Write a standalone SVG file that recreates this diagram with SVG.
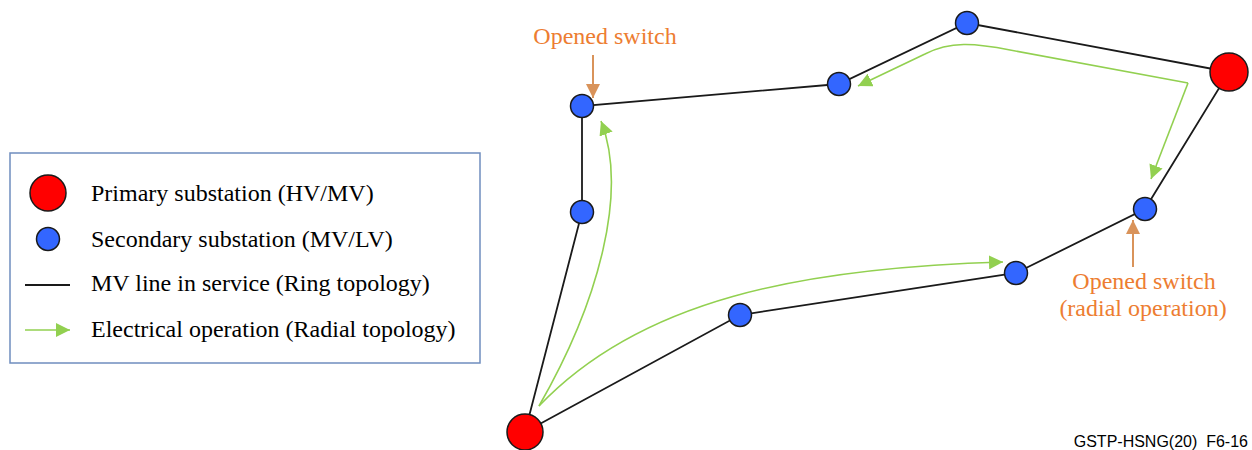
<svg xmlns="http://www.w3.org/2000/svg" width="1252" height="450" viewBox="0 0 1252 450">
<style>
.ring{fill:none;stroke:#1a1a1a;stroke-width:1.8}
.op{fill:none;stroke:#92D050;stroke-width:1.6}
.sw{fill:none;stroke:#D9935A;stroke-width:2}
.prim{fill:#FF0000;stroke:#1a1a1a;stroke-width:1.5}
.sec{fill:#3366FF;stroke:#1a1a1a;stroke-width:1.5}
.lt{font-family:"Liberation Serif","Times New Roman",serif;font-size:24px;fill:#000}
.ot{font-family:"Liberation Serif","Times New Roman",serif;font-size:24px;fill:#ED7D31;text-anchor:middle}
.ft{font-family:"Liberation Sans",Arial,sans-serif;font-size:16px;fill:#000;text-anchor:end}
</style>
<defs>
<marker id="ga" viewBox="0 0 10 10" refX="10" refY="5" markerWidth="14" markerHeight="14" markerUnits="userSpaceOnUse" orient="auto">
<path d="M0,0 L10,5 L0,10 Z" fill="#92D050"/>
</marker>
<marker id="oa" viewBox="0 0 10 10" refX="10" refY="5" markerWidth="14" markerHeight="14" markerUnits="userSpaceOnUse" orient="auto">
<path d="M0,0 L10,5 L0,10 Z" fill="#D9935A"/>
</marker>
</defs>
<g id="legend">
<rect x="10" y="153" width="470" height="210" fill="#fff" stroke="#6F8DBE" stroke-width="1.5"/>
<circle class="prim" cx="48" cy="193" r="18"/>
<circle class="sec" cx="48" cy="239" r="11.5"/>
<line x1="25" y1="285" x2="70" y2="285" stroke="#1a1a1a" stroke-width="1.8"/>
<line x1="25" y1="330" x2="70" y2="330" class="op" marker-end="url(#ga)"/>
<text class="lt" x="91" y="201">Primary substation (HV/MV)</text>
<text class="lt" x="91" y="247">Secondary substation (MV/LV)</text>
<text class="lt" x="91" y="291">MV line in service (Ring topology)</text>
<text class="lt" x="91" y="337">Electrical operation (Radial topology)</text>
</g>
<g id="connectors">
<polyline class="ring" points="525,432 582,212 582,106 839,84 967,23 1229,72 1145,209 1016,273 740,315 525,432"/>
<path class="op" d="M539,406 C600,300 628,190 601,121" marker-end="url(#ga)"/>
<path class="op" d="M539,406 C640,300 800,268 1003,262" marker-end="url(#ga)"/>
<path class="op" d="M1188,83 L1010,50 C975,43 950,41 925,54 L858,86" marker-end="url(#ga)"/>
<path class="op" d="M1188,83 L1151,179" marker-end="url(#ga)"/>
<line class="sw" x1="593" y1="55" x2="593" y2="98" marker-end="url(#oa)"/>
<line class="sw" x1="1133" y1="267" x2="1133" y2="220" marker-end="url(#oa)"/>
</g>
<g id="n-prim-bottom"><circle class="prim" cx="525" cy="432" r="18"/></g>
<g id="n-prim-right"><circle class="prim" cx="1229" cy="72" r="19"/></g>
<g id="n-sec-1"><circle class="sec" cx="582" cy="212" r="11.5"/></g>
<g id="n-sec-2"><circle class="sec" cx="582" cy="106" r="11.5"/></g>
<g id="n-sec-3"><circle class="sec" cx="839" cy="84" r="11.5"/></g>
<g id="n-sec-4"><circle class="sec" cx="967" cy="23" r="11.5"/></g>
<g id="n-sec-5"><circle class="sec" cx="1145" cy="209" r="11.5"/></g>
<g id="n-sec-6"><circle class="sec" cx="1016" cy="273" r="11.5"/></g>
<g id="n-sec-7"><circle class="sec" cx="740" cy="315" r="11.5"/></g>
<g id="labels">
<text class="ot" x="605" y="44">Opened switch</text>
<text class="ot" x="1144" y="289">Opened switch</text>
<text class="ot" x="1143" y="316">(radial operation)</text>
<text class="ft" x="1248" y="447" xml:space="preserve">GSTP-HSNG(20)  F6-16</text>
</g>
</svg>
